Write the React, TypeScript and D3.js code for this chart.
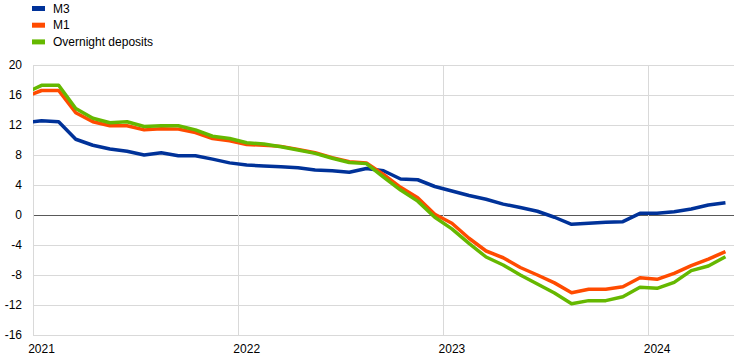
import React from "react";
import * as d3 from "d3";

// Monthly observations, Dec 2020 .. May 2024 (Dec 2020 is only partly visible, clipped at the axis)
const months: string[] = [
  "2020-12",
  "2021-01","2021-02","2021-03","2021-04","2021-05","2021-06","2021-07","2021-08","2021-09","2021-10","2021-11","2021-12",
  "2022-01","2022-02","2022-03","2022-04","2022-05","2022-06","2022-07","2022-08","2022-09","2022-10","2022-11","2022-12",
  "2023-01","2023-02","2023-03","2023-04","2023-05","2023-06","2023-07","2023-08","2023-09","2023-10","2023-11","2023-12",
  "2024-01","2024-02","2024-03","2024-04","2024-05",
];

const m3: number[] = [
  12.3,
  12.57, 12.44, 10.1, 9.3, 8.8, 8.5, 8.0, 8.3, 7.9, 7.9, 7.45, 6.95,
  6.67, 6.53, 6.44, 6.3, 6.0, 5.9, 5.7, 6.2, 5.9, 4.8, 4.7, 3.8,
  3.2, 2.6, 2.1, 1.45, 1.0, 0.5, -0.3, -1.24, -1.1, -0.98, -0.89, 0.22,
  0.22, 0.44, 0.8, 1.33, 1.64,
];

const m1: number[] = [
  15.7,
  16.6, 16.6, 13.64, 12.44, 11.9, 11.9, 11.35, 11.5, 11.45, 11.0, 10.2, 9.9,
  9.4, 9.3, 9.15, 8.75, 8.3, 7.65, 7.1, 6.95, 5.4, 3.69, 2.3, 0.1,
  -1.1, -3.1, -4.8, -5.7, -7.0, -8.0, -9.05, -10.36, -9.9, -9.9, -9.56, -8.36,
  -8.58, -7.78, -6.76, -5.87, -4.89,
];

const overnight: number[] = [
  16.2,
  17.29, 17.29, 14.2, 12.9, 12.3, 12.44, 11.8, 11.9, 11.9, 11.35, 10.5, 10.2,
  9.64, 9.47, 9.1, 8.67, 8.22, 7.56, 7.0, 6.85, 5.05, 3.33, 1.85, -0.31,
  -1.85, -3.78, -5.6, -6.67, -8.0, -9.2, -10.4, -11.83, -11.42, -11.42, -10.89, -9.64,
  -9.78, -8.98, -7.42, -6.8, -5.56,
];

const yTicks: number[] = [20, 16, 12, 8, 4, 0, -4, -8, -12, -16];
const yearLabels: string[] = ["2021", "2022", "2023", "2024"];

const seriesNames: string[] = ["M3", "M1", "Overnight deposits"];
const seriesColors: string[] = ["#003299", "#FF4B00", "#65B800"];

const W = 742;
const H = 360;
const left = 33;
const right = 734;
const top = 65;
const bottom = 335;
const font = "'Liberation Sans', Arial, sans-serif";

export default function App() {
  // index 0 = Jan 2021 ; Dec 2020 has index -1
  const nCats = months.length - 1;
  const x = d3.scaleLinear().domain([-0.5, nCats - 0.5]).range([left, right]);
  const y = d3.scaleLinear().domain([-16, 20]).range([bottom, top]);

  const idx = (i: number) => i - 1;
  const line = d3
    .line<number>()
    .x((_, i) => x(idx(i)))
    .y((d) => y(d));

  const allSeries = [m3, m1, overnight];
  const drawOrder = [0, 1, 2];

  const yearIdx = yearLabels.map((yr) => months.indexOf(yr + "-01") - 1);

  return (
    <svg
      width={W}
      height={H}
      style={{ display: "block", background: "#fff", position: "absolute", left: 0, top: 0 }}
    >
      <defs>
        <clipPath id="plot">
          <rect x={left} y={0} width={right - left} height={H} />
        </clipPath>
      </defs>
      {/* horizontal grid */}
      {yTicks.map((t) => (
        <line
          key={"h" + t}
          x1={left}
          x2={right}
          y1={y(t)}
          y2={y(t)}
          stroke={t === 0 ? "#595959" : "#d9d9d9"}
          strokeWidth={1}
          shapeRendering="crispEdges"
        />
      ))}
      {/* left axis line */}
      <line x1={left} x2={left} y1={top} y2={bottom} stroke="#d9d9d9" shapeRendering="crispEdges" />
      {/* vertical year grid lines */}
      {yearIdx.slice(1).map((i) => (
        <line
          key={"v" + i}
          x1={x(i - 0.5)}
          x2={x(i - 0.5)}
          y1={top}
          y2={bottom}
          stroke="#d9d9d9"
          shapeRendering="crispEdges"
        />
      ))}
      {/* y labels */}
      {yTicks.map((t) => (
        <text
          key={"yl" + t}
          x={22}
          y={y(t)}
          dy="0.35em"
          textAnchor="end"
          fontFamily={font}
          fontSize={12}
          fill="#000"
        >
          {t}
        </text>
      ))}
      {/* x labels */}
      {yearLabels.map((yr, k) => (
        <text
          key={yr}
          x={x(yearIdx[k])}
          y={353}
          textAnchor="middle"
          fontFamily={font}
          fontSize={12}
          fill="#000"
        >
          {yr}
        </text>
      ))}
      {/* lines */}
      <g clipPath="url(#plot)">
        {drawOrder.map((s) => (
          <path
            key={seriesNames[s]}
            d={line(allSeries[s]) || ""}
            fill="none"
            stroke={seriesColors[s]}
            strokeWidth={3.5}
            strokeLinejoin="round"
          />
        ))}
      </g>
      {/* legend */}
      {seriesNames.map((n, k) => (
        <g key={n} transform={`translate(32, ${8.5 + k * 16.7})`}>
          <rect x={0} y={-2.5} width={13} height={5} fill={seriesColors[k]} />
          <text x={21} y={0} dy="0.35em" fontFamily={font} fontSize={12} fill="#000">
            {n}
          </text>
        </g>
      ))}
    </svg>
  );
}
